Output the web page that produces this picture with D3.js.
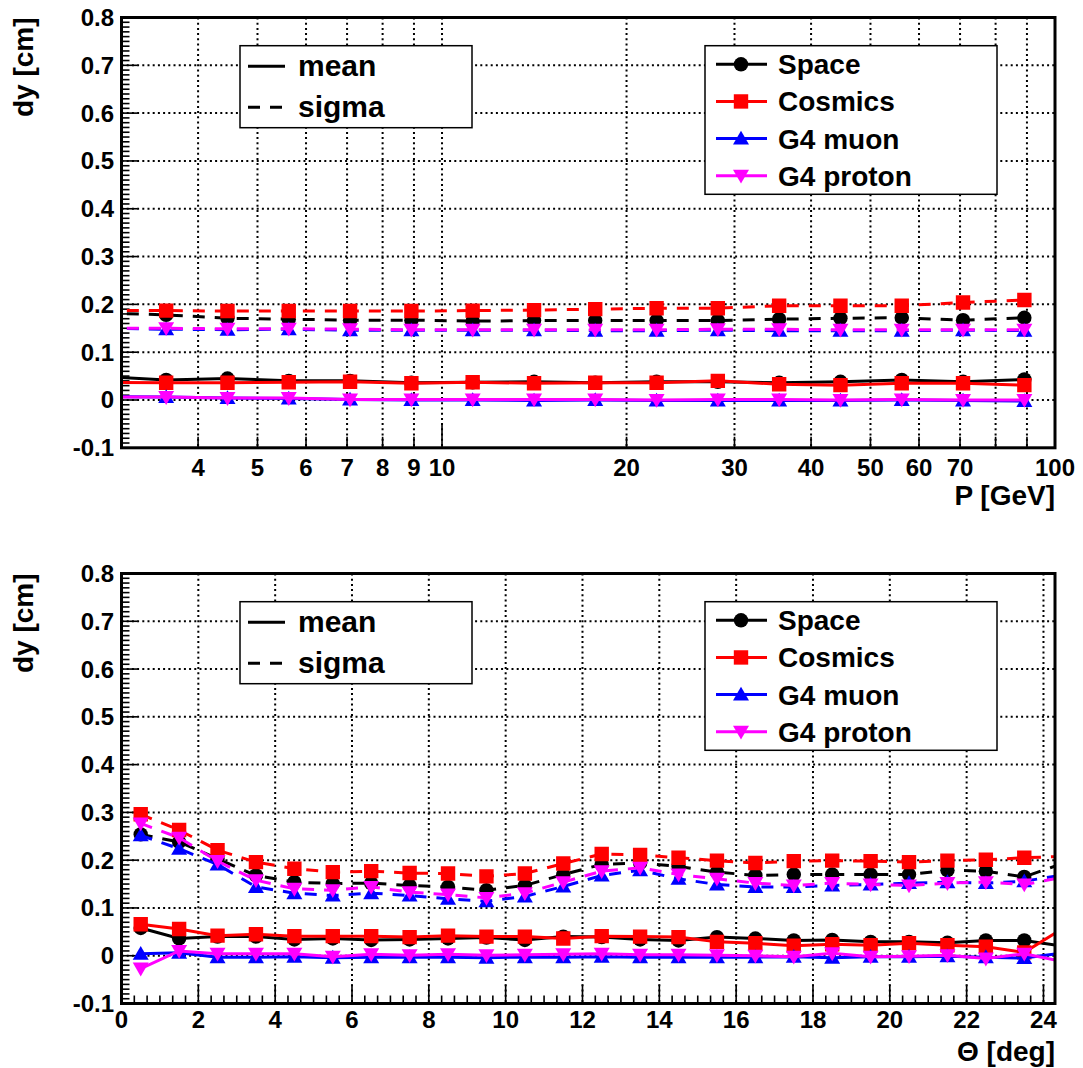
<!DOCTYPE html>
<html><head><meta charset="utf-8">
<script src="https://cdn.jsdelivr.net/npm/d3@7"></script>
<style>
html,body{margin:0;padding:0;background:#fff;}
svg text{font-family:"Liberation Sans",Arial,Helvetica,sans-serif;font-weight:bold;fill:#000;}
</style></head><body>
<svg id="c" width="1083" height="1068"></svg>
<script>
// ---- series meta ----
const seriesNames = ["Space", "Cosmics", "G4 muon", "G4 proton"];
const seriesColors = ["#000000", "#ff0000", "#0000ff", "#ff00ff"];
const seriesMarkers = ["circle", "square", "triangleUp", "triangleDown"];
const styleNames = ["mean", "sigma"];

// ---- momentum bins (log-spaced bin centres, GeV) ----
const pCenters = [2.818, 3.548, 4.467, 5.623, 7.079, 8.913, 11.22, 14.13, 17.78, 22.39, 28.18, 35.48, 44.67, 56.23, 70.79, 89.13];
const pTickLabels = [4, 5, 6, 7, 8, 9, 10, 20, 30, 40, 50, 60, 70, 100];
const pGridValues = [4, 5, 6, 7, 8, 9, 10, 20, 30, 40, 50, 60, 70, 80, 90];

const spaceMeanP   = [0.049, 0.042, 0.045, 0.040, 0.040, 0.036, 0.037, 0.038, 0.036, 0.038, 0.038, 0.036, 0.038, 0.042, 0.038, 0.043];
const cosmicsMeanP = [0.037, 0.036, 0.036, 0.037, 0.038, 0.035, 0.037, 0.035, 0.036, 0.036, 0.040, 0.033, 0.031, 0.035, 0.035, 0.031];
const muonMeanP    = [0.007, 0.006, 0.004, 0.003, 0.001, 0.000, 0.000, -0.001, 0.000, -0.001, -0.001, -0.001, -0.001, 0.000, -0.001, -0.002];
const protonMeanP  = [0.006, 0.006, 0.004, 0.004, 0.001, 0.001, 0.001, 0.001, 0.001, 0.000, 0.001, 0.001, 0.000, 0.001, 0.000, 0.000];

const spaceSigmaP   = [0.182, 0.178, 0.171, 0.169, 0.167, 0.167, 0.165, 0.166, 0.166, 0.166, 0.166, 0.169, 0.171, 0.172, 0.167, 0.172];
const cosmicsSigmaP = [0.187, 0.187, 0.186, 0.186, 0.186, 0.186, 0.187, 0.188, 0.190, 0.192, 0.192, 0.197, 0.197, 0.197, 0.204, 0.209];
const muonSigmaP    = [0.150, 0.148, 0.147, 0.148, 0.146, 0.146, 0.146, 0.146, 0.145, 0.145, 0.146, 0.145, 0.145, 0.145, 0.146, 0.145];
const protonSigmaP  = [0.150, 0.150, 0.149, 0.149, 0.148, 0.147, 0.147, 0.147, 0.147, 0.147, 0.148, 0.148, 0.147, 0.147, 0.147, 0.147];

// ---- polar angle bins (1 deg wide, bin centres) ----
const thetaCenters = [0.5, 1.5, 2.5, 3.5, 4.5, 5.5, 6.5, 7.5, 8.5, 9.5, 10.5, 11.5, 12.5, 13.5, 14.5, 15.5, 16.5, 17.5, 18.5, 19.5, 20.5, 21.5, 22.5, 23.5, 24.5];
const thetaTickLabels = [0, 2, 4, 6, 8, 10, 12, 14, 16, 18, 20, 22, 24];

const spaceMeanT   = [0.058, 0.036, 0.040, 0.040, 0.034, 0.036, 0.033, 0.034, 0.036, 0.038, 0.033, 0.040, 0.039, 0.034, 0.032, 0.039, 0.036, 0.032, 0.033, 0.029, 0.029, 0.027, 0.032, 0.032, 0.020];
const cosmicsMeanT = [0.066, 0.056, 0.042, 0.045, 0.041, 0.041, 0.041, 0.039, 0.042, 0.040, 0.040, 0.036, 0.041, 0.040, 0.039, 0.029, 0.026, 0.021, 0.024, 0.022, 0.026, 0.022, 0.019, 0.007, 0.057];
const muonMeanT    = [0.004, 0.006, -0.003, -0.003, -0.002, -0.004, -0.003, -0.003, -0.003, -0.004, -0.003, -0.003, -0.002, -0.003, -0.003, -0.003, -0.003, -0.002, -0.004, -0.002, -0.002, -0.001, -0.003, -0.005, 0.006];
const protonMeanT  = [-0.027, 0.010, 0.004, 0.004, 0.004, -0.002, 0.003, 0.001, 0.003, 0.001, 0.002, 0.003, 0.004, 0.002, 0.002, 0.001, 0.000, -0.002, 0.005, -0.002, -0.001, 0.001, -0.006, 0.004, -0.012];

const spaceSigmaT   = [0.254, 0.238, 0.203, 0.168, 0.154, 0.151, 0.152, 0.147, 0.144, 0.137, 0.147, 0.170, 0.191, 0.194, 0.187, 0.175, 0.168, 0.170, 0.170, 0.170, 0.170, 0.179, 0.177, 0.165, 0.193];
const cosmicsSigmaT = [0.296, 0.263, 0.221, 0.196, 0.182, 0.175, 0.177, 0.173, 0.172, 0.166, 0.172, 0.193, 0.213, 0.211, 0.205, 0.199, 0.194, 0.198, 0.199, 0.198, 0.196, 0.199, 0.201, 0.205, 0.208];
const muonSigmaT    = [0.252, 0.224, 0.191, 0.144, 0.131, 0.126, 0.131, 0.126, 0.119, 0.114, 0.124, 0.145, 0.168, 0.179, 0.161, 0.149, 0.144, 0.144, 0.147, 0.149, 0.152, 0.154, 0.152, 0.156, 0.169];
const protonSigmaT  = [0.277, 0.247, 0.198, 0.158, 0.140, 0.137, 0.144, 0.133, 0.128, 0.121, 0.131, 0.154, 0.177, 0.184, 0.170, 0.161, 0.152, 0.147, 0.152, 0.149, 0.147, 0.152, 0.154, 0.149, 0.164];

const yTickValues = [-0.1, 0, 0.1, 0.2, 0.3, 0.4, 0.5, 0.6, 0.7, 0.8];

// ---- layout ----
const svg = d3.select("#c");
const X0 = 121.5, X1 = 1055;
const FONT_TICK = 24, FONT_TITLE = 28;

const panels = [
  {
    id: "p", top: 17.5, bottom: 447.8,
    x: d3.scaleLog().domain([3, 100]).range([X0, X1]),
    xs: pCenters,
    mean: [spaceMeanP, cosmicsMeanP, muonMeanP, protonMeanP],
    sigma: [spaceSigmaP, cosmicsSigmaP, muonSigmaP, protonSigmaP],
    title: "P [GeV]", titleY: 505, labelY: 476
  },
  {
    id: "t", top: 573.5, bottom: 1003.5,
    x: d3.scaleLinear().domain([0, 24.3]).range([X0, X1]),
    xs: thetaCenters,
    mean: [spaceMeanT, cosmicsMeanT, muonMeanT, protonMeanT],
    sigma: [spaceSigmaT, cosmicsSigmaT, muonSigmaT, protonSigmaT],
    title: "\u0398 [deg]", titleY: 1061, labelY: 1028
  }
];

function markerPath(kind) {
  switch (kind) {
    case "circle": return d3.symbol(d3.symbolCircle, Math.PI * 7.2 * 7.2)();
    case "square": return "M-7.2,-7.2H7.2V7.2H-7.2Z";
    case "triangleUp": return "M0,-7.8L8,6L-8,6Z";
    case "triangleDown": return "M0,7.8L8,-6L-8,-6Z";
  }
}

const DASH = "12 10";

panels.forEach((P, pi) => {
  const y = d3.scaleLinear().domain([-0.1, 0.8]).range([P.bottom, P.top]);
  const x = P.x;
  const g = svg.append("g");

  // clip to the frame
  const clipId = "clip-" + P.id;
  svg.append("clipPath").attr("id", clipId)
    .append("rect").attr("x", X0).attr("y", P.top).attr("width", X1 - X0).attr("height", P.bottom - P.top);

  // grid (dotted)
  const gridX = P.id === "p" ? pGridValues : thetaTickLabels.filter(v => v > 0);
  const grid = g.append("g").attr("stroke", "#000").attr("stroke-width", 2).attr("stroke-dasharray", "2 3.2").attr("fill", "none");
  grid.selectAll("line.vx").data(gridX).join("line")
    .attr("x1", d => x(d)).attr("x2", d => x(d)).attr("y1", P.top).attr("y2", P.bottom);
  grid.selectAll("line.hy").data(yTickValues.filter(v => v > -0.05 && v < 0.75)).join("line")
    .attr("x1", X0).attr("x2", X1).attr("y1", d => y(d)).attr("y2", d => y(d));

  // y ticks (inside the frame)
  const ticks = g.append("g").attr("stroke", "#000").attr("stroke-width", 1.6);
  const yMinor = d3.range(-10, 81).map(i => i / 100);
  ticks.selectAll("line.ym").data(yMinor).join("line")
    .attr("x1", X0).attr("x2", (d, i) => X0 + (i % 10 === 0 ? 16 : 8))
    .attr("y1", d => y(d)).attr("y2", d => y(d));

  // x ticks
  if (P.id === "p") {
    const xt = [4, 5, 6, 7, 8, 9, 10, 20, 30, 40, 50, 60, 70, 80, 90];
    ticks.selectAll("line.xt").data(xt).join("line")
      .attr("x1", d => x(d)).attr("x2", d => x(d))
      .attr("y1", P.bottom).attr("y2", d => P.bottom - (d === 10 ? 24 : 11));
  } else {
    const xMinor = d3.range(0, 73).map(i => i / 3).filter(v => v <= 24.3);
    ticks.selectAll("line.xt").data(xMinor).join("line")
      .attr("x1", d => x(d)).attr("x2", d => x(d))
      .attr("y1", P.bottom).attr("y2", (d, i) => P.bottom - (i % 6 === 0 ? 19 : 8));
  }

  // data: lines then markers, drawn per series so later series sit on top
  const data = g.append("g").attr("clip-path", `url(#${clipId})`);
  const line = d3.line().x(d => x(d[0])).y(d => y(d[1]));
  [["mean", P.mean, null], ["sigma", P.sigma, DASH]].forEach(([name, arr, dash]) => {
    arr.forEach((vals, si) => {
      const pts = P.xs.map((xv, k) => [xv, vals[k]]);
      data.append("path").datum(pts)
        .attr("d", line).attr("fill", "none")
        .attr("stroke", seriesColors[si]).attr("stroke-width", 3)
        .attr("stroke-dasharray", dash);
      data.selectAll(null).data(pts).join("path")
        .attr("d", markerPath(seriesMarkers[si]))
        .attr("transform", d => `translate(${x(d[0])},${y(d[1])})`)
        .attr("fill", seriesColors[si]);
    });
  });

  // frame
  g.append("rect").attr("x", X0).attr("y", P.top).attr("width", X1 - X0).attr("height", P.bottom - P.top)
    .attr("fill", "none").attr("stroke", "#000").attr("stroke-width", 3);

  // y tick labels
  g.selectAll("text.yl").data(yTickValues).join("text")
    .attr("x", 114).attr("y", d => y(d) + 8.5).attr("text-anchor", "end")
    .attr("font-size", FONT_TICK)
    .text(d => d3.format(".1~f")(d).replace("\u2212", "-"));

  // x tick labels
  const xl = P.id === "p" ? pTickLabels : thetaTickLabels;
  g.selectAll("text.xl").data(xl).join("text")
    .attr("x", d => x(d)).attr("y", P.labelY).attr("text-anchor", "middle")
    .attr("font-size", FONT_TICK).text(d => d);

  // axis titles
  g.append("text").attr("transform", `translate(33,${P.top}) rotate(-90)`)
    .attr("text-anchor", "end").attr("font-size", FONT_TITLE).text("dy [cm]");
  g.append("text").attr("x", X1).attr("y", P.titleY).attr("text-anchor", "end")
    .attr("font-size", FONT_TITLE).text(P.title);

  // legend: line styles
  const l1 = g.append("g").attr("transform", `translate(240,${P.top + 28.2})`);
  l1.append("rect").attr("width", 232).attr("height", 82).attr("fill", "#fff").attr("stroke", "#000").attr("stroke-width", 1.5);
  styleNames.forEach((s, i) => {
    const cy = 20.5 + 41 * i;
    l1.append("line").attr("x1", 8).attr("x2", i === 0 ? 45 : 42).attr("y1", cy).attr("y2", cy)
      .attr("stroke", "#000").attr("stroke-width", 3).attr("stroke-dasharray", i === 0 ? null : DASH);
    l1.append("text").attr("x", 58).attr("y", cy + 10).attr("font-size", 30).text(s);
  });

  // legend: samples
  const l2 = g.append("g").attr("transform", `translate(705,${P.top + 28.2})`);
  l2.append("rect").attr("width", 292).attr("height", 148.6).attr("fill", "#fff").attr("stroke", "#000").attr("stroke-width", 1.5);
  seriesNames.forEach((s, i) => {
    const cy = 18.6 + 37.15 * i;
    l2.append("line").attr("x1", 11).attr("x2", 62).attr("y1", cy).attr("y2", cy)
      .attr("stroke", seriesColors[i]).attr("stroke-width", 3);
    l2.append("path").attr("d", markerPath(seriesMarkers[i]))
      .attr("transform", `translate(36,${cy})`).attr("fill", seriesColors[i]);
    l2.append("text").attr("x", 73).attr("y", cy + 10).attr("font-size", 28).text(s);
  });
});
</script>
</body></html>
